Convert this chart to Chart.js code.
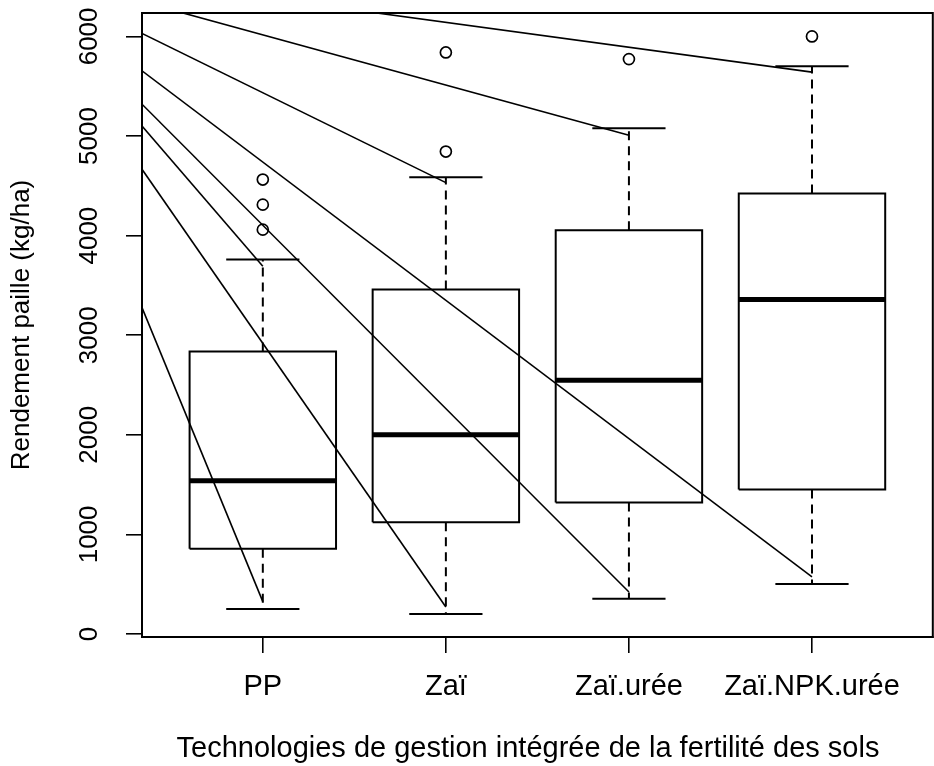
<!DOCTYPE html>
<html>
<head>
<meta charset="utf-8">
<script src="https://cdn.jsdelivr.net/npm/chart.js@4.4.1/dist/chart.umd.min.js"></script>
<style>
  html, body { margin: 0; padding: 0; background: #fff; overflow: hidden; }
  canvas { display: block; }
</style>
</head>
<body>
<canvas id="chart" width="940" height="766"></canvas>
<script>
// Données (kg/ha)
const groupes = ['PP', 'Zaï', 'Zaï.urée', 'Zaï.NPK.urée'];
const moustacheBas = [251, 201, 355, 503];
const quartile1 = [855, 1123, 1320, 1451];
const mediane = [1538, 2001, 2547, 3358];
const quartile3 = [2836, 3459, 4055, 4424];
const moustacheHaut = [3761, 4585, 5078, 5701];
const valeursAtypiques = [[4060, 4311, 4563], [4844, 5839], [5772], [6000]];

// Segments obliques : valeur au bord gauche -> valeur au centre du groupe
const segDebut = [6030, 5654, 5319, 5101, 4666, 3278, 6556, 6348];
const segGroupe = [2, 4, 3, 1, 2, 1, 4, 3];
const segFin = [4532, 573, 422, 3693, 271, 325, 5641, 5007];

const ticksY = [0, 1000, 2000, 3000, 4000, 5000, 6000];
const titreX = 'Technologies de gestion intégrée de la fertilité des sols';
const titreY = 'Rendement paille (kg/ha)';

const xMin = 0.34, xMax = 4.66;
const demiBoite = 0.4, demiCap = 0.2;

const policeX = '29px "Liberation Sans", Arial, sans-serif';
const policeY = '26px "Liberation Sans", Arial, sans-serif';

const datasets = [];

// Boîtes
groupes.forEach((g, i) => {
    const x = i + 1;
    datasets.push({
        data: [
            { x: x - demiBoite, y: quartile1[i] },
            { x: x + demiBoite, y: quartile1[i] },
            { x: x + demiBoite, y: quartile3[i] },
            { x: x - demiBoite, y: quartile3[i] },
            { x: x - demiBoite, y: quartile1[i] }
        ],
        borderColor: '#000', borderWidth: 2, fill: false
    });
    // médiane
    datasets.push({
        data: [{ x: x - demiBoite, y: mediane[i] }, { x: x + demiBoite, y: mediane[i] }],
        borderColor: '#000', borderWidth: 5
    });
    // moustaches (pointillés)
    datasets.push({
        data: [{ x: x, y: quartile3[i] }, { x: x, y: moustacheHaut[i] }],
        borderColor: '#000', borderWidth: 2, borderDash: [9, 6]
    });
    datasets.push({
        data: [{ x: x, y: quartile1[i] }, { x: x, y: moustacheBas[i] }],
        borderColor: '#000', borderWidth: 2, borderDash: [9, 6]
    });
    // traits de fin de moustache
    datasets.push({
        data: [{ x: x - demiCap, y: moustacheHaut[i] }, { x: x + demiCap, y: moustacheHaut[i] }],
        borderColor: '#000', borderWidth: 2
    });
    datasets.push({
        data: [{ x: x - demiCap, y: moustacheBas[i] }, { x: x + demiCap, y: moustacheBas[i] }],
        borderColor: '#000', borderWidth: 2
    });
    // valeurs atypiques
    datasets.push({
        data: valeursAtypiques[i].map(v => ({ x: x, y: v })),
        showLine: false, pointRadius: 5.5, pointBorderWidth: 1.7,
        pointBorderColor: '#000', pointBackgroundColor: 'rgba(0,0,0,0)'
    });
});

// Segments obliques
segDebut.forEach((v, k) => {
    datasets.push({
        data: [{ x: xMin, y: v }, { x: segGroupe[k], y: segFin[k] }],
        borderColor: '#000', borderWidth: 1.6
    });
});

datasets.forEach(d => {
    if (d.showLine === undefined) { d.showLine = true; d.pointRadius = 0; }
});

function texte(ctx, txt, x, y, rot) {
    ctx.save();
    ctx.translate(x, y);
    if (rot) ctx.rotate(rot);
    ctx.fillText(txt, 0, 0);
    ctx.restore();
}

const textes = {
    id: 'textes',
    afterDraw(chart) {
        const ctx = chart.ctx;
        const a = chart.chartArea;
        const sx = chart.scales.x, sy = chart.scales.y;
        ctx.save();
        // cadre
        ctx.strokeStyle = '#000';
        ctx.lineWidth = 2;
        ctx.strokeRect(a.left, a.top, a.right - a.left, a.bottom - a.top);

        ctx.fillStyle = '#000';
        ctx.textAlign = 'center';
        ctx.textBaseline = 'middle';
        ctx.font = policeX;
        groupes.forEach((g, i) => {
            texte(ctx, g, sx.getPixelForValue(i + 1), 687, 0);
        });
        texte(ctx, titreX, 528, 749, 0);
        ctx.font = policeY;
        ticksY.forEach(t => {
            texte(ctx, String(t), 90, sy.getPixelForValue(t), -Math.PI / 2);
        });
        texte(ctx, titreY, 22, (a.top + a.bottom) / 2, -Math.PI / 2);
        ctx.restore();
    }
};

new Chart(document.getElementById('chart'), {
    type: 'scatter',
    data: { datasets },
    options: {
        responsive: false,
        animation: false,
        devicePixelRatio: 1,
        layout: { padding: { top: 13, right: 3, left: 0, bottom: 0 } },
        plugins: { legend: { display: false }, tooltip: { enabled: false } },
        scales: {
            x: {
                type: 'linear', min: xMin, max: xMax,
                afterBuildTicks: s => { s.ticks = groupes.map((g, i) => ({ value: i + 1 })); },
                afterFit: s => { s.height = 129; },
                ticks: { display: false },
                grid: { drawOnChartArea: false, drawTicks: true, tickLength: 16, color: '#000', lineWidth: 1.6 },
                border: { display: true, color: '#000', width: 2 }
            },
            y: {
                type: 'linear', min: -30, max: 6235,
                afterBuildTicks: s => { s.ticks = ticksY.map(v => ({ value: v })); },
                afterFit: s => { s.width = 142; },
                ticks: { display: false },
                grid: { drawOnChartArea: false, drawTicks: true, tickLength: 16, color: '#000', lineWidth: 1.6 },
                border: { display: true, color: '#000', width: 2 }
            }
        }
    },
    plugins: [textes]
});
</script>
</body>
</html>
